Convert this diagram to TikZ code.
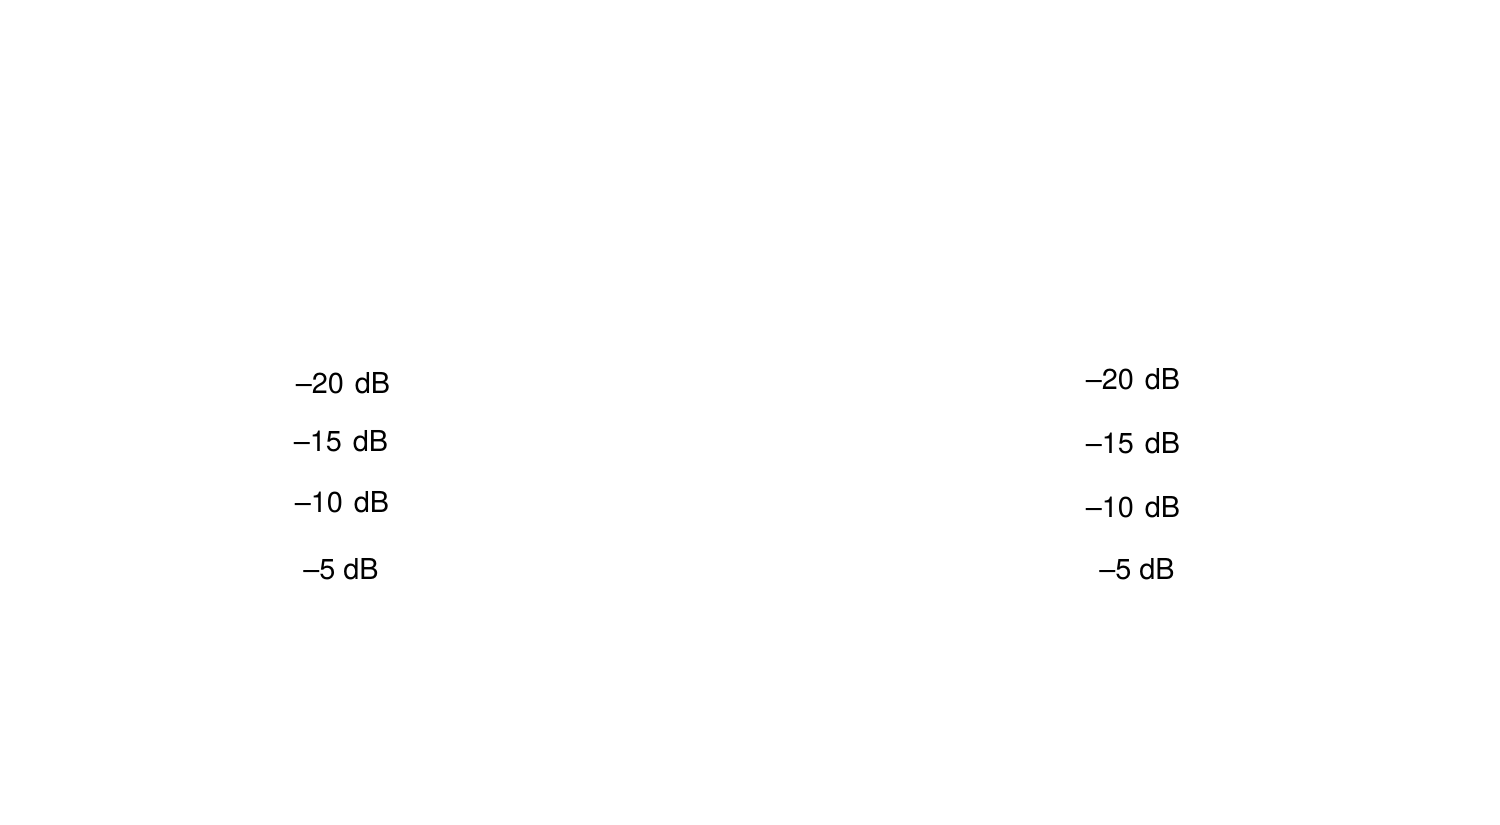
\documentclass[tikz,border=0pt]{standalone}
\usepackage{fontspec}
\setmainfont{TeX Gyre Heros}
\newcommand{\gp}{\ \hspace{0.8pt}}
\begin{document}
\begin{tikzpicture}[x=0.01cm,y=-0.01cm,
  lbl/.style={inner sep=0pt, font=\fontsize{8.2}{9}\selectfont}]
\useasboundingbox (0,0) rectangle (1500,825);
\node[lbl] (l20) at (343,383) {–20\gp dB};
\node[lbl] (l15) at (341,441) {–15\gp dB};
\node[lbl] (l10) at (342,502) {–10\gp dB};
\node[lbl] (l5)  at (341,569) {–5 dB};
\node[lbl] (r20) at (1133,379) {–20\gp dB};
\node[lbl] (r15) at (1133,443) {–15\gp dB};
\node[lbl] (r10) at (1133,507) {–10\gp dB};
\node[lbl] (r5)  at (1137,569) {–5 dB};
\end{tikzpicture}
\end{document}
